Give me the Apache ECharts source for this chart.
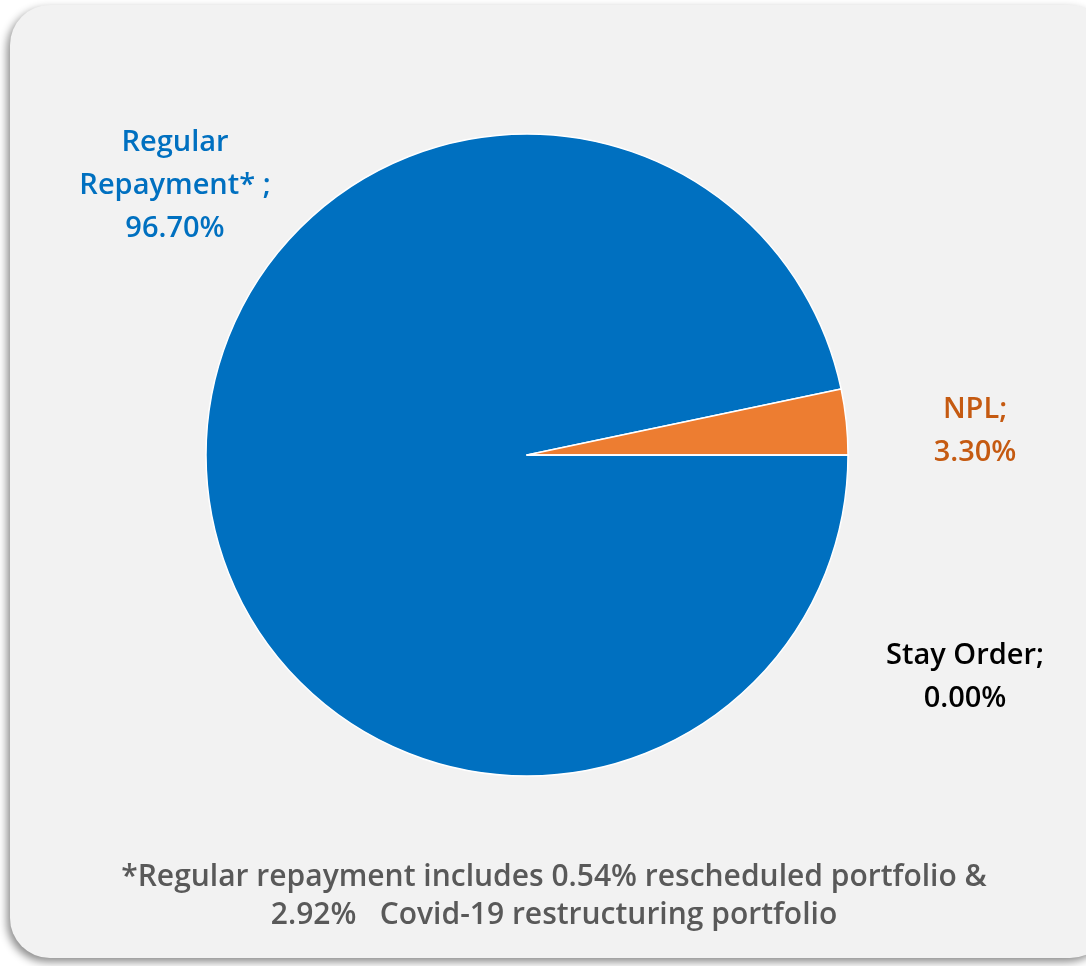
<!DOCTYPE html>
<html>
<head>
<meta charset="utf-8">
<script src="https://cdn.jsdelivr.net/npm/echarts@6/dist/echarts.min.js"></script>
<style>
html,body{margin:0;padding:0;background:#fff;}
#chart{width:1086px;height:966px;}
</style>
</head>
<body>
<div id="chart"></div>
<script>
const categories = ['Regular\nRepayment* ', 'NPL', 'Stay Order'];
const values = [96.70, 3.30, 0.00];
const sliceColors = ['#0070c0', '#ed7d31', '#a5a5a5'];
const labelColors = ['#0070c0', '#c55a11', '#000000'];
const footnote = '*Regular repayment includes 0.54% rescheduled portfolio &\n2.92%   Covid-19 restructuring portfolio';

const labelPos = [[175, 186], [975, 431], [965, 677]];

const chart = echarts.init(document.getElementById('chart'));
chart.setOption({
  animation: false,
  graphic: [{
    type: 'rect',
    z: -10,
    shape: {x: 10, y: 5, width: 1100, height: 953, r: 40},
    style: {
      fill: '#f2f2f2',
      shadowColor: 'rgba(0,0,0,0.45)',
      shadowBlur: 8,
      shadowOffsetX: -3,
      shadowOffsetY: 4
    }
  }, {
    type: 'text',
    z: 10,
    x: 554,
    y: 858,
    style: {
      text: footnote,
      align: 'center',
      verticalAlign: 'top',
      font: '600 30px "Open Sans"',
      fill: '#595959',
      lineHeight: 38
    }
  }],
  series: [{
    type: 'pie',
    center: [527, 455],
    radius: 321,
    startAngle: 0,
    clockwise: true,
    data: categories.map((c, i) => ({
      name: c,
      value: values[i],
      itemStyle: {color: sliceColors[i]},
      label: {color: labelColors[i]}
    })),
    itemStyle: {borderColor: '#ffffff', borderWidth: 1.5},
    label: {
      show: true,
      position: 'outside',
      overflow: 'none',
      fontFamily: 'Open Sans',
      fontSize: 29,
      fontWeight: 600,
      lineHeight: 43,
      align: 'center',
      formatter: p => p.name + ';\n' + p.value.toFixed(2) + '%'
    },
    labelLine: {show: false},
    labelLayout: p => ({
      x: labelPos[p.dataIndex][0],
      y: labelPos[p.dataIndex][1],
      align: 'center',
      verticalAlign: 'middle'
    }),
    emphasis: {disabled: true}
  }]
});
</script>
</body>
</html>
